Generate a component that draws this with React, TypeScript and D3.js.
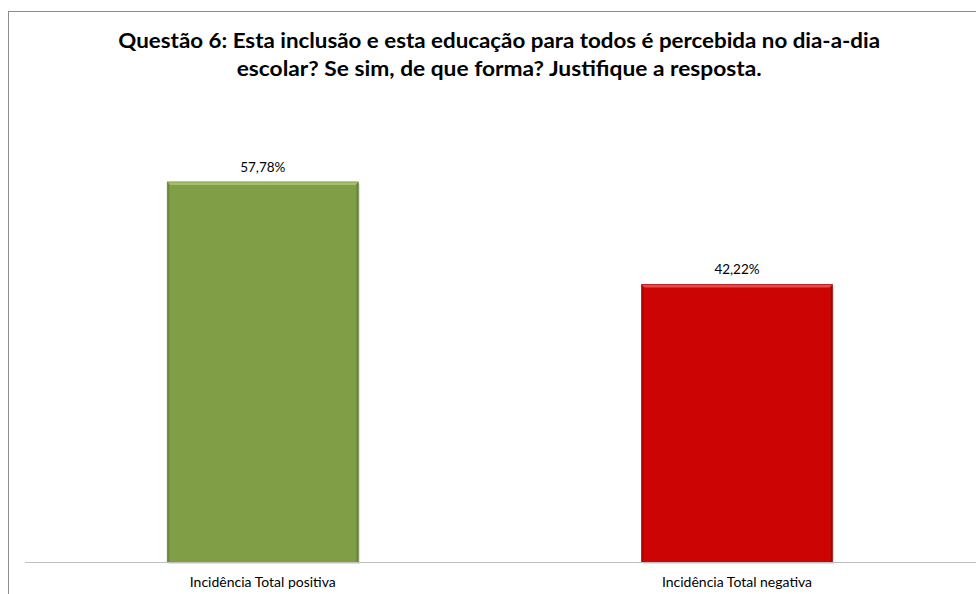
import React from "react";
import * as d3 from "d3";

const categories = ["Incidência Total positiva", "Incidência Total negativa"];
const values = [57.78, 42.22];
const valueLabels = ["57,78%", "42,22%"];
const titleLines = [
  "Questão 6: Esta inclusão e esta educação para todos é percebida no dia-a-dia",
  "escolar? Se sim, de que forma? Justifique a resposta.",
];
const barColors = ["#7F9E45", "#CC0404"];
const barDark = ["#5E7A30", "#9A0000"];
const barLight = ["#A4C06A", "#E84A4A"];

const W = 976;
const H = 594;
const FONT = "Lato, 'Open Sans', sans-serif";

export default function App() {
  const x = d3
    .scaleBand<string>()
    .domain(categories)
    .range([25.7, 974.1])
    .paddingInner(0.597)
    .paddingOuter(0.2985);
  const y = d3.scaleLinear().domain([0, 70]).range([562.5, 101.4]);
  const bw = x.bandwidth();

  return (
    <svg
      width={W}
      height={H}
      style={{ position: "absolute", left: 0, top: 0, background: "#fff" }}
      fontFamily={FONT}
    >
      <defs>
        {categories.map((c, i) => (
          <linearGradient key={c} id={`g${i}`} x1="0" x2="1" y1="0" y2="0">
            <stop offset="0" stopColor={barDark[i]} />
            <stop offset="0.015" stopColor={barColors[i]} />
            <stop offset="0.985" stopColor={barColors[i]} />
            <stop offset="1" stopColor={barDark[i]} />
          </linearGradient>
        ))}
      </defs>
      <rect x={8.5} y={11.5} width={990} height={600} fill="#fff" stroke="#8C8C8C" strokeWidth={1} />
      {titleLines.map((t, i) => (
        <text
          key={i}
          x={499.2}
          y={48 + i * 28}
          textAnchor="middle"
          fontSize={20}
          fontWeight="bold"
          fill="#000"
          textLength={i === 0 ? 761.7 : 525}
          lengthAdjust="spacingAndGlyphs"
        >
          {t}
        </text>
      ))}
      {categories.map((c, i) => {
        const bx = x(c)!;
        const top = y(values[i]);
        const h = y(0) - top;
        return (
          <g key={c}>
            <rect x={bx + 1.5} y={top + 1.5} width={bw} height={h} fill="#000" opacity={0.12} />
            <rect x={bx} y={top} width={bw} height={h} fill={`url(#g${i})`} />
            <polygon
              points={`${bx},${top} ${bx + bw},${top} ${bx + bw - 3},${top + 3} ${bx + 3},${top + 3}`}
              fill={barLight[i]}
            />
            <rect x={bx} y={top} width={bw} height={h} fill="none" stroke={barDark[i]} strokeWidth={0.8} opacity={0.7} />
            <text
              x={bx + bw / 2}
              y={top - 10}
              textAnchor="middle"
              fontSize={13.5}
              fill="#000"
            >
              {valueLabels[i]}
            </text>
          </g>
        );
      })}
      <line x1={25} x2={976} y1={562.5} y2={562.5} stroke="#BFBFBF" strokeWidth={1} />
      {categories.map((c) => (
        <text
          key={c}
          x={x(c)! + bw / 2}
          y={587}
          textAnchor="middle"
          fontSize={14}
          fill="#000"
        >
          {c}
        </text>
      ))}
    </svg>
  );
}
